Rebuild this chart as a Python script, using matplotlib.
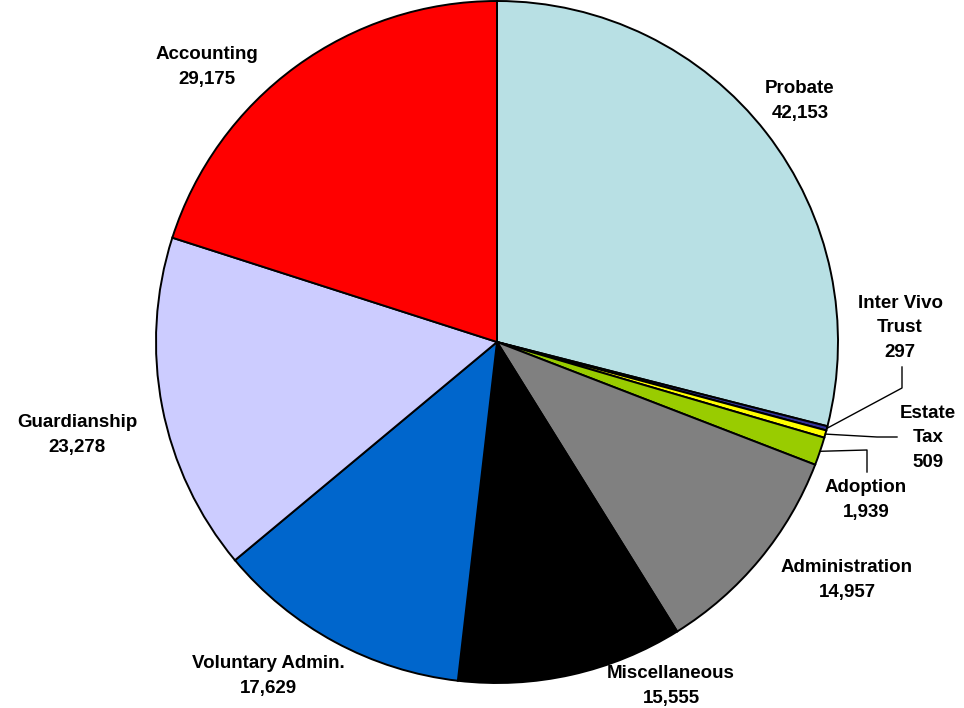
import matplotlib
matplotlib.use("Agg")
import matplotlib.pyplot as plt
import numpy as np

# Case categories and counts, clockwise from 12 o'clock
categories = ["Probate", "Inter Vivo\nTrust", "Estate\nTax", "Adoption",
              "Administration", "Miscellaneous", "Voluntary Admin.",
              "Guardianship", "Accounting"]
counts = [42153, 297, 509, 1939, 14957, 15555, 17629, 23278, 29175]
colors = ["#B8E0E4", "#333399", "#FFFF00", "#99CC00", "#808080",
          "#000000", "#0066CC", "#CCCCFF", "#FF0000"]

H = 708  # figure height in pixels, used to flip pixel y to data y

# label centre positions (pixels from top-left) and leader line elbows
label_pos = [(800, 101), (900, 328), (928, 438), (866, 500), (847, 580),
             (671, 686), (268, 676), (77, 435), (207, 67)]
elbows = {1: (902, 388), 2: (877, 437), 3: (867, 450)}
label_ends = {1: (902, 367), 2: (897, 437), 3: (867, 472)}

plt.rcParams['font.family'] = ['Liberation Sans', 'DejaVu Sans']

fig = plt.figure(figsize=(9.64, 7.08), dpi=100)
ax = fig.add_axes([0, 0, 1, 1])

cx, cy, r = 497, H - 342, 341
wedges, _ = ax.pie(counts, colors=colors, startangle=90, counterclock=False,
                   center=(cx, cy), radius=r, frame=True,
                   wedgeprops=dict(edgecolor='black', linewidth=1.4))
ax.set_xlim(0, 964)
ax.set_ylim(0, H)
ax.set_aspect('equal')
ax.axis('off')

for i, (name, val) in enumerate(zip(categories, counts)):
    x, y = label_pos[i]
    ax.text(x, H - y, f"{name}\n{val:,}", ha='center', va='center',
            fontsize=13.5, fontweight='bold', linespacing=1.55)
    if i in elbows:
        w = wedges[i]
        ang = np.deg2rad((w.theta1 + w.theta2) / 2)
        px = cx + r * np.cos(ang)
        py = cy + r * np.sin(ang)
        ex, ey = elbows[i]
        lx, ly = label_ends[i]
        ax.plot([px, ex, lx], [py, H - ey, H - ly], color='black', linewidth=1.0)

fig.savefig("out.png", dpi=100)
